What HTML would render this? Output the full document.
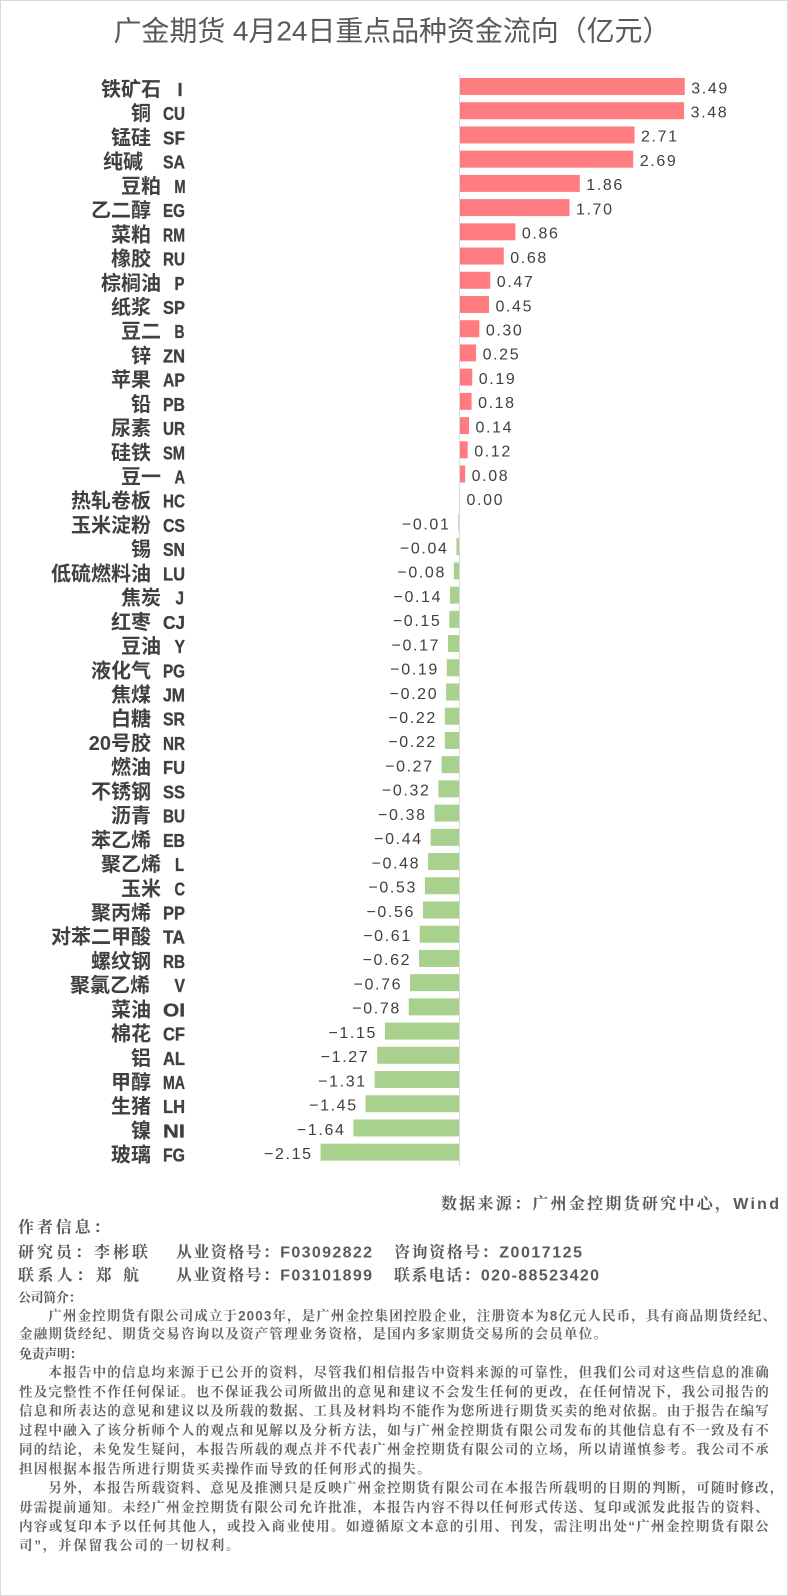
<!DOCTYPE html>
<html><head><meta charset="utf-8"><style>
html,body{margin:0;padding:0;background:#fff;width:788px;height:1596px;overflow:hidden}
svg{display:block}
.p{fill:#FF7C80}.n{fill:#A9D18E}
.v{font-family:"Liberation Sans",sans-serif;font-size:16px;fill:#404040}
.c{font-family:"Liberation Sans","Noto Sans CJK SC",sans-serif;font-weight:bold;font-size:20px;fill:#404040;text-anchor:end}
.k{font-family:"Liberation Sans",sans-serif;font-weight:bold;font-size:18.5px;fill:#404040;stroke:#404040;stroke-width:0.35px}
.t{font-family:"Liberation Sans","Noto Sans CJK SC",sans-serif;font-size:28px;fill:#595959}
.s{font-family:"Liberation Sans","Noto Serif CJK SC",serif;font-weight:bold;font-size:16px;fill:#5a5a5a}
.h{font-family:"Liberation Sans","Noto Serif CJK SC",serif;font-weight:bold;font-size:13px;fill:#5a5a5a}
.q{font-family:"Liberation Sans","Noto Serif CJK SC",serif;font-weight:bold;font-size:13.5px;fill:#666}
</style></head><body>
<svg width="788" height="1596" viewBox="0 0 788 1596" xmlns="http://www.w3.org/2000/svg">
<rect x="0.5" y="0.5" width="787" height="1595" fill="#fff" stroke="#D9D9D9" stroke-width="1"/>
<text class="t" x="113.5" y="40.5" textLength="557" lengthAdjust="spacing">广金期货 4月24日重点品种资金流向（亿元）</text>

<g transform="translate(0,78)"><rect class="p" x="460" y="0" width="224.76" height="17"/><text class="v" x="691.26" y="15.3" textLength="36">3.49</text><text class="c" x="161" y="18">铁矿石</text><text class="k" x="177.5" y="18">I</text></g>
<g transform="translate(0,102.22)"><rect class="p" x="460" y="0" width="224.11" height="17"/><text class="v" x="690.61" y="15.3" textLength="36">3.48</text><text class="c" x="151" y="18">铜</text><text class="k" x="163" y="18" textLength="22" lengthAdjust="spacingAndGlyphs">CU</text></g>
<g transform="translate(0,126.44)"><rect class="p" x="460" y="0" width="174.52" height="17"/><text class="v" x="641.02" y="15.3" textLength="36">2.71</text><text class="c" x="151" y="18">锰硅</text><text class="k" x="163" y="18" textLength="22" lengthAdjust="spacingAndGlyphs">SF</text></g>
<g transform="translate(0,150.66)"><rect class="p" x="460" y="0" width="173.24" height="17"/><text class="v" x="639.74" y="15.3" textLength="36">2.69</text><text class="c" x="143" y="18">纯碱</text><text class="k" x="163" y="18" textLength="22" lengthAdjust="spacingAndGlyphs">SA</text></g>
<g transform="translate(0,174.88)"><rect class="p" x="460" y="0" width="119.78" height="17"/><text class="v" x="586.28" y="15.3" textLength="36">1.86</text><text class="c" x="161" y="18">豆粕</text><text class="k" x="174.5" y="18" textLength="11" lengthAdjust="spacingAndGlyphs">M</text></g>
<g transform="translate(0,199.1)"><rect class="p" x="460" y="0" width="109.48" height="17"/><text class="v" x="575.98" y="15.3" textLength="36">1.70</text><text class="c" x="151" y="18">乙二醇</text><text class="k" x="163" y="18" textLength="22" lengthAdjust="spacingAndGlyphs">EG</text></g>
<g transform="translate(0,223.32)"><rect class="p" x="460" y="0" width="55.38" height="17"/><text class="v" x="521.88" y="15.3" textLength="36">0.86</text><text class="c" x="151" y="18">菜粕</text><text class="k" x="163" y="18" textLength="22" lengthAdjust="spacingAndGlyphs">RM</text></g>
<g transform="translate(0,247.54)"><rect class="p" x="460" y="0" width="43.79" height="17"/><text class="v" x="510.29" y="15.3" textLength="36">0.68</text><text class="c" x="151" y="18">橡胶</text><text class="k" x="163" y="18" textLength="22" lengthAdjust="spacingAndGlyphs">RU</text></g>
<g transform="translate(0,271.76)"><rect class="p" x="460" y="0" width="30.27" height="17"/><text class="v" x="496.77" y="15.3" textLength="36">0.47</text><text class="c" x="161" y="18">棕榈油</text><text class="k" x="174.5" y="18" textLength="10" lengthAdjust="spacingAndGlyphs">P</text></g>
<g transform="translate(0,295.98)"><rect class="p" x="460" y="0" width="28.98" height="17"/><text class="v" x="495.48" y="15.3" textLength="36">0.45</text><text class="c" x="151" y="18">纸浆</text><text class="k" x="163" y="18" textLength="22" lengthAdjust="spacingAndGlyphs">SP</text></g>
<g transform="translate(0,320.2)"><rect class="p" x="460" y="0" width="19.32" height="17"/><text class="v" x="485.82" y="15.3" textLength="36">0.30</text><text class="c" x="161" y="18">豆二</text><text class="k" x="174.5" y="18" textLength="10" lengthAdjust="spacingAndGlyphs">B</text></g>
<g transform="translate(0,344.42)"><rect class="p" x="460" y="0" width="16.1" height="17"/><text class="v" x="482.6" y="15.3" textLength="36">0.25</text><text class="c" x="151" y="18">锌</text><text class="k" x="163" y="18" textLength="22" lengthAdjust="spacingAndGlyphs">ZN</text></g>
<g transform="translate(0,368.64)"><rect class="p" x="460" y="0" width="12.24" height="17"/><text class="v" x="478.74" y="15.3" textLength="36">0.19</text><text class="c" x="151" y="18">苹果</text><text class="k" x="163" y="18" textLength="22" lengthAdjust="spacingAndGlyphs">AP</text></g>
<g transform="translate(0,392.86)"><rect class="p" x="460" y="0" width="11.59" height="17"/><text class="v" x="478.09" y="15.3" textLength="36">0.18</text><text class="c" x="151" y="18">铅</text><text class="k" x="163" y="18" textLength="22" lengthAdjust="spacingAndGlyphs">PB</text></g>
<g transform="translate(0,417.08)"><rect class="p" x="460" y="0" width="9.02" height="17"/><text class="v" x="475.52" y="15.3" textLength="36">0.14</text><text class="c" x="151" y="18">尿素</text><text class="k" x="163" y="18" textLength="22" lengthAdjust="spacingAndGlyphs">UR</text></g>
<g transform="translate(0,441.3)"><rect class="p" x="460" y="0" width="7.73" height="17"/><text class="v" x="474.23" y="15.3" textLength="36">0.12</text><text class="c" x="151" y="18">硅铁</text><text class="k" x="163" y="18" textLength="22" lengthAdjust="spacingAndGlyphs">SM</text></g>
<g transform="translate(0,465.52)"><rect class="p" x="460" y="0" width="5.15" height="17"/><text class="v" x="471.65" y="15.3" textLength="36">0.08</text><text class="c" x="161" y="18">豆一</text><text class="k" x="174.5" y="18" textLength="10.5" lengthAdjust="spacingAndGlyphs">A</text></g>
<g transform="translate(0,489.74)"><text class="v" x="466.5" y="15.3" textLength="36">0.00</text><text class="c" x="151" y="18">热轧卷板</text><text class="k" x="163" y="18" textLength="22" lengthAdjust="spacingAndGlyphs">HC</text></g>
<g transform="translate(0,513.96)"><rect class="n" x="458.36" y="0" width="0.64" height="17"/><text class="v" x="401.86" y="15.3" textLength="47">−0.01</text><text class="c" x="151" y="18">玉米淀粉</text><text class="k" x="163" y="18" textLength="22" lengthAdjust="spacingAndGlyphs">CS</text></g>
<g transform="translate(0,538.18)"><rect class="n" x="456.42" y="0" width="2.58" height="17"/><text class="v" x="399.92" y="15.3" textLength="47">−0.04</text><text class="c" x="151" y="18">锡</text><text class="k" x="163" y="18" textLength="22" lengthAdjust="spacingAndGlyphs">SN</text></g>
<g transform="translate(0,562.4)"><rect class="n" x="453.85" y="0" width="5.15" height="17"/><text class="v" x="397.35" y="15.3" textLength="47">−0.08</text><text class="c" x="151" y="18">低硫燃料油</text><text class="k" x="163" y="18" textLength="22" lengthAdjust="spacingAndGlyphs">LU</text></g>
<g transform="translate(0,586.62)"><rect class="n" x="449.98" y="0" width="9.02" height="17"/><text class="v" x="393.48" y="15.3" textLength="47">−0.14</text><text class="c" x="161" y="18">焦炭</text><text class="k" x="175.5" y="18" textLength="8.5" lengthAdjust="spacingAndGlyphs">J</text></g>
<g transform="translate(0,610.84)"><rect class="n" x="449.34" y="0" width="9.66" height="17"/><text class="v" x="392.84" y="15.3" textLength="47">−0.15</text><text class="c" x="151" y="18">红枣</text><text class="k" x="163" y="18" textLength="22" lengthAdjust="spacingAndGlyphs">CJ</text></g>
<g transform="translate(0,635.06)"><rect class="n" x="448.05" y="0" width="10.95" height="17"/><text class="v" x="391.55" y="15.3" textLength="47">−0.17</text><text class="c" x="161" y="18">豆油</text><text class="k" x="174.5" y="18" textLength="10.5" lengthAdjust="spacingAndGlyphs">Y</text></g>
<g transform="translate(0,659.28)"><rect class="n" x="446.76" y="0" width="12.24" height="17"/><text class="v" x="390.26" y="15.3" textLength="47">−0.19</text><text class="c" x="151" y="18">液化气</text><text class="k" x="163" y="18" textLength="22" lengthAdjust="spacingAndGlyphs">PG</text></g>
<g transform="translate(0,683.5)"><rect class="n" x="446.12" y="0" width="12.88" height="17"/><text class="v" x="389.62" y="15.3" textLength="47">−0.20</text><text class="c" x="151" y="18">焦煤</text><text class="k" x="163" y="18" textLength="22" lengthAdjust="spacingAndGlyphs">JM</text></g>
<g transform="translate(0,707.72)"><rect class="n" x="444.83" y="0" width="14.17" height="17"/><text class="v" x="388.33" y="15.3" textLength="47">−0.22</text><text class="c" x="151" y="18">白糖</text><text class="k" x="163" y="18" textLength="22" lengthAdjust="spacingAndGlyphs">SR</text></g>
<g transform="translate(0,731.94)"><rect class="n" x="444.83" y="0" width="14.17" height="17"/><text class="v" x="388.33" y="15.3" textLength="47">−0.22</text><text class="c" x="151" y="18">20号胶</text><text class="k" x="163" y="18" textLength="22" lengthAdjust="spacingAndGlyphs">NR</text></g>
<g transform="translate(0,756.16)"><rect class="n" x="441.61" y="0" width="17.39" height="17"/><text class="v" x="385.11" y="15.3" textLength="47">−0.27</text><text class="c" x="151" y="18">燃油</text><text class="k" x="163" y="18" textLength="22" lengthAdjust="spacingAndGlyphs">FU</text></g>
<g transform="translate(0,780.38)"><rect class="n" x="438.39" y="0" width="20.61" height="17"/><text class="v" x="381.89" y="15.3" textLength="47">−0.32</text><text class="c" x="151" y="18">不锈钢</text><text class="k" x="163" y="18" textLength="22" lengthAdjust="spacingAndGlyphs">SS</text></g>
<g transform="translate(0,804.6)"><rect class="n" x="434.53" y="0" width="24.47" height="17"/><text class="v" x="378.03" y="15.3" textLength="47">−0.38</text><text class="c" x="151" y="18">沥青</text><text class="k" x="163" y="18" textLength="22" lengthAdjust="spacingAndGlyphs">BU</text></g>
<g transform="translate(0,828.82)"><rect class="n" x="430.66" y="0" width="28.34" height="17"/><text class="v" x="374.16" y="15.3" textLength="47">−0.44</text><text class="c" x="151" y="18">苯乙烯</text><text class="k" x="163" y="18" textLength="22" lengthAdjust="spacingAndGlyphs">EB</text></g>
<g transform="translate(0,853.04)"><rect class="n" x="428.09" y="0" width="30.91" height="17"/><text class="v" x="371.59" y="15.3" textLength="47">−0.48</text><text class="c" x="161" y="18">聚乙烯</text><text class="k" x="175" y="18" textLength="9" lengthAdjust="spacingAndGlyphs">L</text></g>
<g transform="translate(0,877.26)"><rect class="n" x="424.87" y="0" width="34.13" height="17"/><text class="v" x="368.37" y="15.3" textLength="47">−0.53</text><text class="c" x="161" y="18">玉米</text><text class="k" x="174.5" y="18" textLength="10.5" lengthAdjust="spacingAndGlyphs">C</text></g>
<g transform="translate(0,901.48)"><rect class="n" x="422.94" y="0" width="36.06" height="17"/><text class="v" x="366.44" y="15.3" textLength="47">−0.56</text><text class="c" x="151" y="18">聚丙烯</text><text class="k" x="163" y="18" textLength="22" lengthAdjust="spacingAndGlyphs">PP</text></g>
<g transform="translate(0,925.7)"><rect class="n" x="419.72" y="0" width="39.28" height="17"/><text class="v" x="363.22" y="15.3" textLength="47">−0.61</text><text class="c" x="151" y="18">对苯二甲酸</text><text class="k" x="163" y="18" textLength="22" lengthAdjust="spacingAndGlyphs">TA</text></g>
<g transform="translate(0,949.92)"><rect class="n" x="419.07" y="0" width="39.93" height="17"/><text class="v" x="362.57" y="15.3" textLength="47">−0.62</text><text class="c" x="151" y="18">螺纹钢</text><text class="k" x="163" y="18" textLength="22" lengthAdjust="spacingAndGlyphs">RB</text></g>
<g transform="translate(0,974.14)"><rect class="n" x="410.06" y="0" width="48.94" height="17"/><text class="v" x="353.56" y="15.3" textLength="47">−0.76</text><text class="c" x="150" y="18">聚氯乙烯</text><text class="k" x="174.5" y="18" textLength="10.5" lengthAdjust="spacingAndGlyphs">V</text></g>
<g transform="translate(0,998.36)"><rect class="n" x="408.77" y="0" width="50.23" height="17"/><text class="v" x="352.27" y="15.3" textLength="47">−0.78</text><text class="c" x="151" y="18">菜油</text><text class="k" x="163" y="18" textLength="22" lengthAdjust="spacingAndGlyphs">OI</text></g>
<g transform="translate(0,1022.58)"><rect class="n" x="384.94" y="0" width="74.06" height="17"/><text class="v" x="328.44" y="15.3" textLength="47">−1.15</text><text class="c" x="151" y="18">棉花</text><text class="k" x="163" y="18" textLength="22" lengthAdjust="spacingAndGlyphs">CF</text></g>
<g transform="translate(0,1046.8)"><rect class="n" x="377.21" y="0" width="81.79" height="17"/><text class="v" x="320.71" y="15.3" textLength="47">−1.27</text><text class="c" x="151" y="18">铝</text><text class="k" x="163" y="18" textLength="22" lengthAdjust="spacingAndGlyphs">AL</text></g>
<g transform="translate(0,1071.02)"><rect class="n" x="374.64" y="0" width="84.36" height="17"/><text class="v" x="318.14" y="15.3" textLength="47">−1.31</text><text class="c" x="151" y="18">甲醇</text><text class="k" x="163" y="18" textLength="22" lengthAdjust="spacingAndGlyphs">MA</text></g>
<g transform="translate(0,1095.24)"><rect class="n" x="365.62" y="0" width="93.38" height="17"/><text class="v" x="309.12" y="15.3" textLength="47">−1.45</text><text class="c" x="151" y="18">生猪</text><text class="k" x="163" y="18" textLength="22" lengthAdjust="spacingAndGlyphs">LH</text></g>
<g transform="translate(0,1119.46)"><rect class="n" x="353.38" y="0" width="105.62" height="17"/><text class="v" x="296.88" y="15.3" textLength="47">−1.64</text><text class="c" x="151" y="18">镍</text><text class="k" x="163" y="18" textLength="22" lengthAdjust="spacingAndGlyphs">NI</text></g>
<g transform="translate(0,1143.68)"><rect class="n" x="320.54" y="0" width="138.46" height="17"/><text class="v" x="264.04" y="15.3" textLength="47">−2.15</text><text class="c" x="151" y="18">玻璃</text><text class="k" x="163" y="18" textLength="22" lengthAdjust="spacingAndGlyphs">FG</text></g>

<rect x="459" y="74" width="1" height="1092" fill="#D9D9D9"/>

<text class="s" x="441" y="1209" textLength="338" lengthAdjust="spacing">数据来源：广州金控期货研究中心，Wind</text>
<text class="s" x="18" y="1232.3" textLength="91.5" lengthAdjust="spacing">作者信息：</text>
<text class="s" x="18" y="1257.5" textLength="130" lengthAdjust="spacing">研究员：李彬联</text>
<text class="s" x="176" y="1257.5" textLength="196" lengthAdjust="spacing">从业资格号：F03092822</text>
<text class="s" x="394" y="1257.5" textLength="188" lengthAdjust="spacing">咨询资格号：Z0017125</text>
<text class="s" x="18" y="1280.7" textLength="121" lengthAdjust="spacing">联系人：郑 航</text>
<text class="s" x="176" y="1280.7" textLength="196" lengthAdjust="spacing">从业资格号：F03101899</text>
<text class="s" x="394" y="1280.7" textLength="205" lengthAdjust="spacing">联系电话：020-88523420</text>
<text class="h" x="18" y="1301.8" textLength="63.5" lengthAdjust="spacing">公司简介：</text>

<text class="q" x="48.4" y="1320.3" textLength="727.7" lengthAdjust="spacing">广州金控期货有限公司成立于2003年，是广州金控集团控股企业，注册资本为8亿元人民币，具有商品期货经纪、</text>
<text class="q" x="19" y="1338.7" textLength="588" lengthAdjust="spacing">金融期货经纪、期货交易咨询以及资产管理业务资格，是国内多家期货交易所的会员单位。</text>
<text class="h" x="19" y="1358.5" textLength="63.5" lengthAdjust="spacing">免责声明：</text>
<text class="q" x="48.4" y="1377" textLength="720.3" lengthAdjust="spacing">本报告中的信息均来源于已公开的资料，尽管我们相信报告中资料来源的可靠性，但我们公司对这些信息的准确</text>
<text class="q" x="19" y="1396.5" textLength="749.7" lengthAdjust="spacing">性及完整性不作任何保证。也不保证我公司所做出的意见和建议不会发生任何的更改，在任何情况下，我公司报告的</text>
<text class="q" x="19" y="1415.7" textLength="749.7" lengthAdjust="spacing">信息和所表达的意见和建议以及所载的数据、工具及材料均不能作为您所进行期货买卖的绝对依据。由于报告在编写</text>
<text class="q" x="19" y="1435" textLength="749.7" lengthAdjust="spacing">过程中融入了该分析师个人的观点和见解以及分析方法，如与广州金控期货有限公司发布的其他信息有不一致及有不</text>
<text class="q" x="19" y="1454" textLength="749.7" lengthAdjust="spacing">同的结论，未免发生疑问，本报告所载的观点并不代表广州金控期货有限公司的立场，所以请谨慎参考。我公司不承</text>
<text class="q" x="19" y="1473.5" textLength="411.6" lengthAdjust="spacing">担因根据本报告所进行期货买卖操作而导致的任何形式的损失。</text>
<text class="q" x="48.4" y="1492.7" textLength="735" lengthAdjust="spacing">另外，本报告所载资料、意见及推测只是反映广州金控期货有限公司在本报告所载明的日期的判断，可随时修改，</text>
<text class="q" x="19" y="1512" textLength="749.7" lengthAdjust="spacing">毋需提前通知。未经广州金控期货有限公司允许批准，本报告内容不得以任何形式传送、复印或派发此报告的资料、</text>
<text class="q" x="19" y="1531" textLength="749.7" lengthAdjust="spacing">内容或复印本予以任何其他人，或投入商业使用。如遵循原文本意的引用、刊发，需注明出处“广州金控期货有限公</text>
<text class="q" x="19" y="1550" textLength="220.5" lengthAdjust="spacing">司”，并保留我公司的一切权利。</text>
</svg>
</body></html>
